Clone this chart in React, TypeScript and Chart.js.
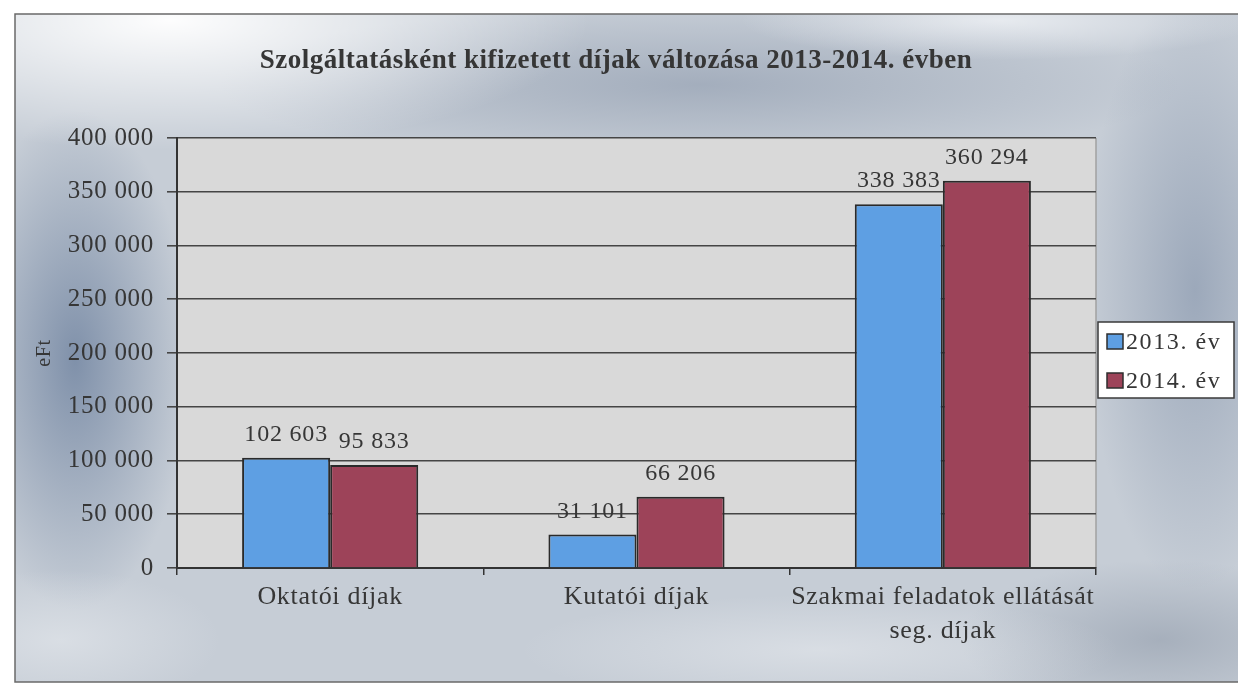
import React, { useEffect, useRef } from "react";
import { Chart, registerables } from "chart.js";

Chart.register(...registerables);

const chartTitle = "Szolgáltatásként kifizetett díjak változása 2013-2014. évben";
const categories: string[][] = [
  ["Oktatói díjak"],
  ["Kutatói díjak"],
  ["Szakmai feladatok ellátását", "seg. díjak"],
];
const seriesLabels = ["2013. év", "2014. év"];
const values2013 = [102603, 31101, 338383];
const values2014 = [95833, 66206, 360294];
const seriesColors = ["#5e9fe3", "#9d4359"];
const yTicks = [0, 50000, 100000, 150000, 200000, 250000, 300000, 350000, 400000];
const yAxisTitle = "eFt";

const TEXT = "#363636";
const SERIF = "'Liberation Serif', 'Times New Roman', serif";

function fmt(n: number): string {
  return String(n).replace(/\B(?=(\d{3})+(?!\d))/g, " ");
}

function blob(ctx: any, cx: number, cy: number, rx: number, ry: number, color: string, clear: string, area: number[]) {
  ctx.save();
  ctx.beginPath();
  ctx.rect(area[0], area[1], area[2], area[3]);
  ctx.clip();
  ctx.translate(cx, cy);
  ctx.scale(1, ry / rx);
  const g = ctx.createRadialGradient(0, 0, 0, 0, 0, rx);
  g.addColorStop(0, color);
  g.addColorStop(1, clear);
  ctx.fillStyle = g;
  ctx.fillRect(-rx, -rx, rx * 2, rx * 2);
  ctx.restore();
}

const backgroundPlugin = {
  id: "bgPlugin",
  beforeDraw(chart: any) {
    const { ctx, width, height, chartArea } = chart;
    ctx.letterSpacing = "0px";
    ctx.save();
    ctx.fillStyle = "#ffffff";
    ctx.fillRect(0, 0, width, height);
    const fx = 15, fy = 14, fw = width - 15, fh = 682 - 14;
    const area = [fx, fy, fw, fh];
    ctx.fillStyle = "#c6cdd6";
    ctx.fillRect(fx, fy, fw, fh);
    blob(ctx, 700, 85, 480, 80, "rgba(135,148,168,0.55)", "rgba(135,148,168,0)", area);
    blob(ctx, 75, 360, 115, 250, "rgba(115,134,162,0.85)", "rgba(115,134,162,0)", area);
    blob(ctx, 1195, 290, 110, 300, "rgba(128,144,168,0.6)", "rgba(128,144,168,0)", area);
    blob(ctx, 1160, 640, 200, 80, "rgba(135,146,162,0.5)", "rgba(135,146,162,0)", area);
    blob(ctx, 820, 650, 300, 55, "rgba(232,235,239,0.55)", "rgba(232,235,239,0)", area);
    blob(ctx, 60, 640, 160, 70, "rgba(225,229,234,0.7)", "rgba(225,229,234,0)", area);
    blob(ctx, 170, 20, 420, 130, "rgba(255,255,255,0.97)", "rgba(255,255,255,0)", area);
    blob(ctx, 1000, 20, 260, 40, "rgba(245,247,250,0.7)", "rgba(245,247,250,0)", area);
    ctx.strokeStyle = "#6a6a6a";
    ctx.lineWidth = 1.5;
    ctx.beginPath();
    ctx.moveTo(width, fy);
    ctx.lineTo(fx, fy);
    ctx.lineTo(fx, fy + fh);
    ctx.lineTo(width, fy + fh);
    ctx.stroke();
    // plot area
    ctx.fillStyle = "#d9d9d9";
    ctx.fillRect(chartArea.left, chartArea.top, chartArea.right - chartArea.left, chartArea.bottom - chartArea.top);
    ctx.strokeStyle = "#a0a0a0";
    ctx.lineWidth = 1.5;
    ctx.beginPath();
    ctx.moveTo(chartArea.right, chartArea.top);
    ctx.lineTo(chartArea.right, chartArea.bottom);
    ctx.stroke();
    // title
    ctx.letterSpacing = "0.5px";
    ctx.font = `bold 27px ${SERIF}`;
    ctx.fillStyle = TEXT;
    ctx.textAlign = "center";
    ctx.textBaseline = "alphabetic";
    ctx.fillText(chartTitle, 616, 68);
    ctx.restore();
    // spacing for all library-drawn text (axis labels)
    ctx.letterSpacing = "0.7px";
  },
};

const labelsPlugin = {
  id: "valueLabels",
  afterDatasetsDraw(chart: any) {
    const { ctx } = chart;
    ctx.save();
    ctx.letterSpacing = "0.8px";
    ctx.font = `24px ${SERIF}`;
    ctx.fillStyle = TEXT;
    ctx.textAlign = "center";
    ctx.textBaseline = "alphabetic";
    chart.data.datasets.forEach((ds: any, i: number) => {
      const meta = chart.getDatasetMeta(i);
      meta.data.forEach((bar: any, j: number) => {
        ctx.fillText(fmt(ds.data[j]), bar.x, bar.y - 17);
      });
    });
    ctx.restore();
  },
};

const legendPlugin = {
  id: "boxLegend",
  afterDraw(chart: any) {
    const { ctx } = chart;
    const x = 1098, y = 322, w = 136, h = 76;
    ctx.save();
    ctx.fillStyle = "#ffffff";
    ctx.fillRect(x, y, w, h);
    ctx.strokeStyle = "#3a3a3a";
    ctx.lineWidth = 1.5;
    ctx.strokeRect(x, y, w, h);
    ctx.letterSpacing = "1.6px";
    ctx.font = `24px ${SERIF}`;
    ctx.textBaseline = "alphabetic";
    ctx.textAlign = "left";
    chart.data.datasets.forEach((ds: any, i: number) => {
      const base = 349 + i * 39;
      ctx.fillStyle = ds.backgroundColor;
      ctx.fillRect(x + 9, base - 15, 16, 15);
      ctx.strokeStyle = "#2e2e2e";
      ctx.lineWidth = 1.5;
      ctx.strokeRect(x + 9, base - 15, 16, 15);
      ctx.fillStyle = TEXT;
      ctx.fillText(ds.label, x + 28, base);
    });
    ctx.restore();
  },
};

export default function App() {
  const ref = useRef<HTMLCanvasElement>(null);
  useEffect(() => {
    if (!ref.current) return;
    const chart = new Chart(ref.current, {
      type: "bar",
      data: {
        labels: categories,
        datasets: [
          {
            label: seriesLabels[0],
            data: values2013,
            backgroundColor: seriesColors[0],
            borderColor: "#2a2a2a",
            borderWidth: 2,
            categoryPercentage: 0.575,
            barPercentage: 1,
          },
          {
            label: seriesLabels[1],
            data: values2014,
            backgroundColor: seriesColors[1],
            borderColor: "#2a2a2a",
            borderWidth: 2,
            categoryPercentage: 0.575,
            barPercentage: 1,
          },
        ],
      },
      options: {
        responsive: false,
        animation: false,
        layout: { padding: { left: 0, right: 142, top: 138, bottom: 0 } },
        plugins: {
          legend: { display: false },
          tooltip: { enabled: false },
          title: { display: false },
        },
        scales: {
          x: {
            grid: {
              offset: true,
              drawOnChartArea: false,
              drawTicks: true,
              tickLength: 7,
              color: "#333",
              lineWidth: 1.5,
            },
            border: { display: true, color: "#333", width: 2 },
            ticks: {
              color: TEXT,
              font: { family: SERIF, size: 26, lineHeight: 1.28 },
              padding: 6,
              maxRotation: 0,
              autoSkip: false,
            },
            afterFit: (s: any) => {
              s.height = 683 - 568;
            },
          },
          y: {
            min: 0,
            max: 400000,
            afterBuildTicks: (s: any) => {
              s.ticks = yTicks.map((v) => ({ value: v }));
            },
            grid: {
              color: "#454545",
              lineWidth: 1.6,
              tickLength: 10,
              drawTicks: true,
            },
            border: { display: true, color: "#333", width: 2 },
            ticks: {
              color: TEXT,
              font: { family: SERIF, size: 25 },
              padding: 13,
              callback: (v: any) => fmt(Number(v)),
            },
            title: {
              display: true,
              text: yAxisTitle,
              color: TEXT,
              font: { family: SERIF, size: 20 },
              padding: { top: 33, bottom: 0 },
            },
            afterFit: (s: any) => {
              s.width = 177;
            },
          },
        },
      },
      plugins: [backgroundPlugin, labelsPlugin, legendPlugin],
    });
    return () => chart.destroy();
  }, []);
  return (
    <div style={{ position: "absolute", left: 0, top: 0, width: 1238, height: 683 }}>
      <canvas ref={ref} width={1238} height={683} />
    </div>
  );
}
